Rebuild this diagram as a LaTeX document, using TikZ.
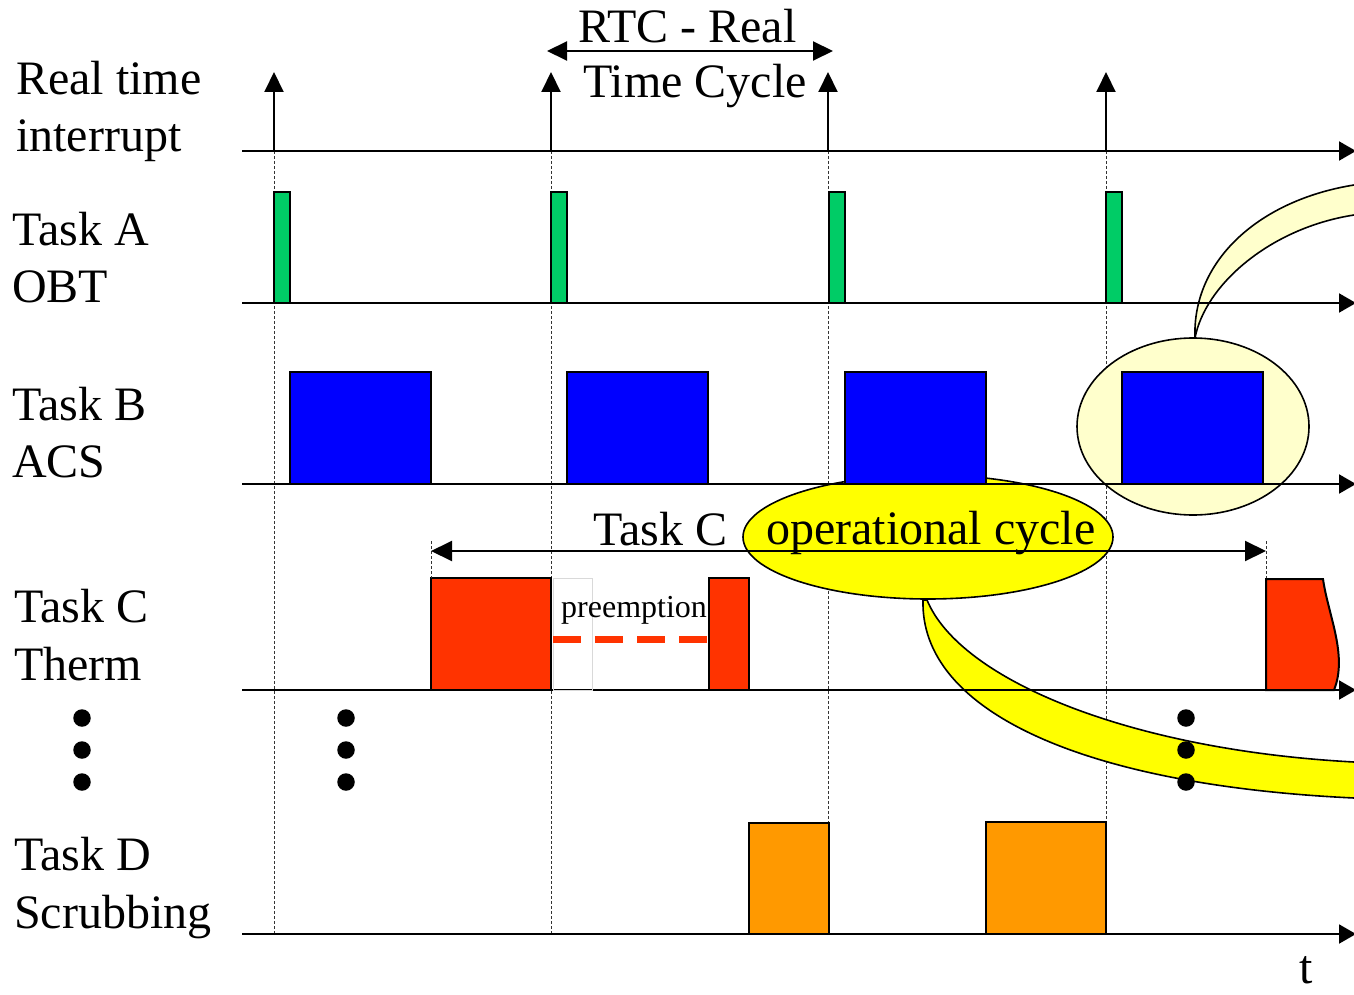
\documentclass[tikz,border=0pt]{standalone}
\usepackage{fontspec}
\setmainfont{Liberation Serif}
\usetikzlibrary{arrows.meta}

\definecolor{obtgreen}{RGB}{0,204,102}
\definecolor{acsblue}{RGB}{0,0,255}
\definecolor{thermred}{RGB}{255,51,0}
\definecolor{scruborange}{RGB}{255,153,0}
\definecolor{calloutyellow}{RGB}{255,255,0}
\definecolor{calloutpale}{RGB}{255,255,204}

\tikzset{
  bigtip/.tip={Triangle[length=20pt,width=19pt]},
  spantip/.tip={Triangle[length=21pt,width=20pt]}
}

\begin{document}
\begin{tikzpicture}[x=1pt,y=-1pt,
  axis/.style={line width=2pt,-{Triangle[length=17pt,width=19pt]}},
  arrowline/.style={line width=2pt},
  gridline/.style={line width=0.8pt,dash pattern=on 3pt off 2pt,black!80},
  taskbox/.style={draw=black,line width=2pt},
  callout/.style={draw=black,line width=1.6pt},
  lbl/.style={anchor=base west,inner sep=0pt,font=\fontsize{48}{58}\selectfont},
  small/.style={anchor=base west,inner sep=0pt,font=\fontsize{32}{38}\selectfont},
  dot/.style={circle,fill=black,inner sep=0pt,minimum size=17.5pt}
]
\useasboundingbox (0,0) rectangle (1354,995);

% real-time interrupt instants
\foreach \x [count=\i] in {274,551,828,1106} {
  \coordinate (tick\i) at (\x,151);
  \coordinate (irq\i) at (\x,72);
  \coordinate (foot\i) at (\x,934);
}

% dashed guide lines through each cycle start
\foreach \i in {1,...,4} \draw[gridline] (tick\i) -- (foot\i);

% callout: operational cycle
\draw[callout,fill=calloutyellow]
  (923,600) .. controls (920,710) and (1080,785) .. (1354,798)
  -- (1370,799) -- (1370,761) -- (1354,762)
  .. controls (1130,750) and (960,680) .. (927,600) -- cycle;
\draw[callout,fill=calloutyellow] (928,537) ellipse [x radius=185pt,y radius=62pt];

% callout: magnified Task B slot
\draw[callout,fill=calloutpale]
  (1195,338) .. controls (1192,260) and (1260,200) .. (1354,185)
  -- (1370,181) -- (1370,211) -- (1354,215)
  .. controls (1270,228) and (1205,285) .. (1195,338) -- cycle;
\draw[callout,fill=calloutpale] (1193,426.5) ellipse [x radius=116pt,y radius=88.5pt];

% time axes
\foreach \y [count=\j] in {151,303,484,690,934} {
  \coordinate (axs\j) at (242,\y);
  \coordinate (axe\j) at (1356,\y);
  \draw[axis] (axs\j) -- (axe\j);
}

% Task A (OBT)
\foreach \x in {274,551,829,1106}
  \draw[taskbox,fill=obtgreen] (\x,192) rectangle (\x+16,303);

% Task B (ACS)
\foreach \x in {290,567,845,1122}
  \draw[taskbox,fill=acsblue] (\x,372) rectangle (\x+141,484);

% Task C (Therm)
\draw[draw=black!15,line width=0.8pt] (553,578) rectangle (592,690);
\draw[taskbox,fill=thermred] (431,578) rectangle (551,690);
\draw[taskbox,fill=thermred] (709,578) rectangle (749,690);
\draw[taskbox,fill=thermred] (1266,690) -- (1266,579) -- (1323,579)
  .. controls (1328,615) and (1348,655) .. (1334,690) -- cycle;
\draw[line width=7pt,thermred,dash pattern=on 28pt off 14pt] (553,639) -- (707,639);

% Task D (Scrubbing)
\draw[taskbox,fill=scruborange] (749,823) rectangle (829,934);
\draw[taskbox,fill=scruborange] (986,822) rectangle (1106,934);

% interrupt arrows
\foreach \i in {1,...,4} \draw[arrowline,-{bigtip}] (tick\i) -- (irq\i);

% RTC span
\coordinate (rtcL) at (547,51);
\coordinate (rtcR) at (833,51);
\draw[arrowline,{bigtip}-{bigtip}] (rtcL) -- (rtcR);

% Task C operational cycle span
\coordinate (opL) at (431,551);
\coordinate (opR) at (1266,551);
\draw[gridline] (431,541) -- (431,578);
\draw[gridline] (1266,541) -- (1266,578);
\draw[arrowline,{spantip}-{spantip}] (opL) -- (opR);

% texts
\node[lbl] (rtc1) at (578,43) {RTC - Real};
\node[lbl] (rtc2) at (583,98) {Time Cycle};
\node[lbl] (rti1) at (16,95) {Real time};
\node[lbl] (rti2) at (16,152) {interrupt};
\node[lbl] (ta1) at (12,245) {Task A};
\node[lbl] (ta2) at (12,302) {OBT};
\node[lbl] (tb1) at (12,420) {Task B};
\node[lbl] (tb2) at (12,477) {ACS};
\node[lbl] (tc1) at (14,622) {Task C};
\node[lbl] (tc2) at (14,680) {Therm};
\node[lbl] (td1) at (14,870) {Task D};
\node[lbl] (td2) at (14,928) {Scrubbing};
\node[lbl] (opc1) at (593,545) {Task C};
\node[lbl] (opc2) at (766,544) {operational cycle};
\node[small] (pre) at (561,617) {preemption};
\node[lbl] (tlab) at (1299,983) {t};

% ellipsis dots
\foreach \x [count=\k] in {82,346,1186}
  \foreach \y [count=\m] in {718,750,782}
    \node[dot] (dot\k\m) at (\x,\y) {};
\end{tikzpicture}
\end{document}
